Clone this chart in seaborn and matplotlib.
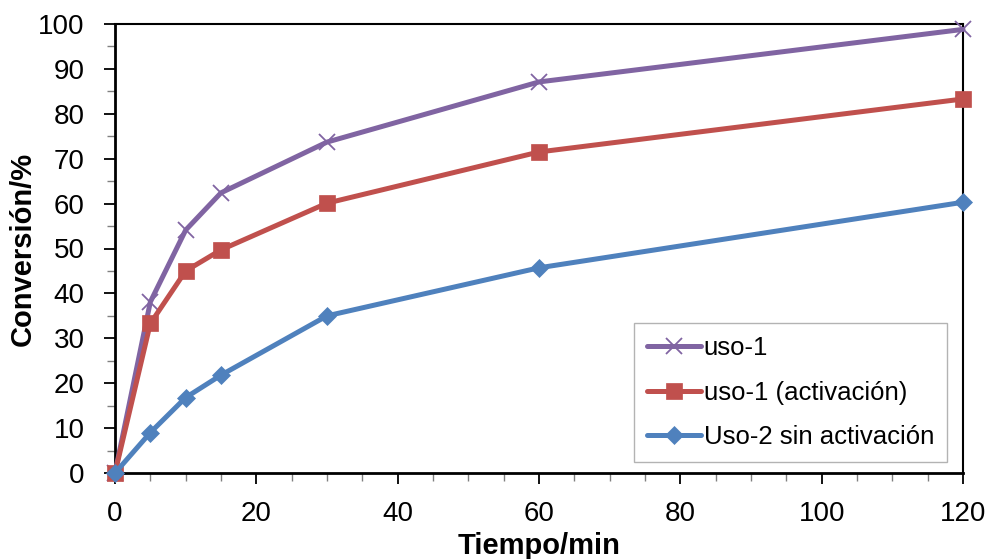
import matplotlib
matplotlib.use("Agg")
import matplotlib.pyplot as plt
from matplotlib.ticker import MultipleLocator
import seaborn as sns
import pandas as pd

# Reaction time (min) and conversion (%) for each catalyst run
tiempo = [0, 5, 10, 15, 30, 60, 120]
uso1 = [0, 38.1, 54.1, 62.4, 73.7, 87.1, 98.8]
uso1_activacion = [0, 33.3, 45.0, 49.7, 60.1, 71.5, 83.3]
uso2_sin_activacion = [0, 9.0, 16.8, 21.8, 35.0, 45.7, 60.3]

series_names = ["uso-1", "uso-1 (activación)", "Uso-2 sin activación"]
series_values = [uso1, uso1_activacion, uso2_sin_activacion]
series_colors = ["#8064A2", "#C0504D", "#4F81BD"]
series_markers = ["x", "s", "D"]
series_msize = [12, 12, 8.7]

x_ticks = [0, 20, 40, 60, 80, 100, 120]
y_ticks = list(range(0, 101, 10))

sns.set_theme(style="white")
plt.rcParams["font.family"] = ["Liberation Sans", "DejaVu Sans"]
plt.rcParams["text.color"] = "black"
plt.rcParams["axes.labelcolor"] = "black"

fig = plt.figure(figsize=(9.89, 5.59), dpi=100)
ax = fig.add_axes([115 / 989, 1 - 473 / 559, (963 - 115) / 989, (473 - 24) / 559])

for name, vals, col, mk, ms in zip(series_names, series_values, series_colors,
                                    series_markers, series_msize):
    df = pd.DataFrame({"t": tiempo, "c": vals})
    sns.lineplot(data=df, x="t", y="c", ax=ax, color=col, linewidth=3.6,
                 marker=mk, markersize=ms, markeredgecolor=col,
                 markeredgewidth=1.3 if mk == "x" else 0.5,
                 label=name, clip_on=False, zorder=3)

ax.set_xlim(0, 120)
ax.set_ylim(0, 100)
ax.set_xticks(x_ticks)
ax.set_yticks(y_ticks)
ax.xaxis.set_minor_locator(MultipleLocator(5))
ax.yaxis.set_minor_locator(MultipleLocator(5))
ax.tick_params(axis="both", which="major", direction="out", length=8, width=1.3,
               color="black", labelcolor="black", labelsize=20)
ax.tick_params(axis="both", which="minor", direction="out", length=6, width=1.0,
               color="#808080")
ax.tick_params(axis="x", which="major", pad=12)
ax.tick_params(axis="y", which="major", pad=14)
ax.xaxis.set_ticks_position("bottom")
ax.yaxis.set_ticks_position("left")

for side, lw in [("left", 2.0), ("bottom", 2.0), ("top", 1.5), ("right", 1.5)]:
    ax.spines[side].set_visible(True)
    ax.spines[side].set_color("black")
    ax.spines[side].set_linewidth(lw)

ax.set_xlabel("Tiempo/min", fontsize=21, fontweight="bold")
ax.set_ylabel("Conversión/%", fontsize=21, fontweight="bold")
ax.xaxis.set_label_coords(0.5, -0.132)
ax.yaxis.set_label_coords(-0.092, 0.5)

leg = ax.legend(loc="lower right", bbox_to_anchor=(947 / 989, 1 - 462 / 559),
                bbox_transform=fig.transFigure, fontsize=18.5, frameon=True,
                fancybox=False, edgecolor="#A0A0A0", handlelength=2.1,
                handletextpad=0.12, labelspacing=0.8, borderpad=0.5,
                borderaxespad=0)
leg.get_frame().set_linewidth(1.0)

fig.savefig("out.png", dpi=100)
